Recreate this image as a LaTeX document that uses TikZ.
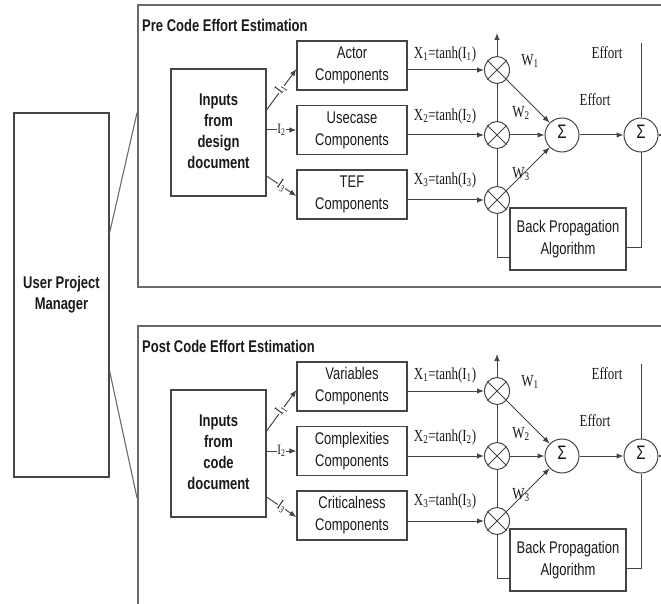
\documentclass[tikz,border=0pt]{standalone}
\usepackage{graphicx}
\usepackage{fontspec}
\setmainfont{Liberation Serif}
\setsansfont{Liberation Sans}
\usetikzlibrary{arrows.meta,shapes.geometric}

\definecolor{linegray}{HTML}{454545}
\definecolor{framegray}{HTML}{6A6A6A}
\definecolor{inkdark}{HTML}{1A1A1A}

% lettering is set a little taller than wide
\newcommand{\tall}[1]{\scalebox{1}[1.3]{\begin{tabular}{@{}c@{}}#1\end{tabular}}}

\tikzset{
  wire/.style={draw=linegray, line width=1pt},
  arr/.style={wire, -{Latex[length=7pt,width=5.5pt]}},
  panel/.style={draw=framegray, line width=1.6pt},
  joinline/.style={draw=framegray, line width=1.1pt},
  boxtext/.style={font=\sffamily\fontsize{13}{17}\selectfont, text=inkdark, align=center},
  boldtext/.style={font=\sffamily\bfseries\fontsize{13}{16.2}\selectfont, text=inkdark, align=center},
  block/.style={draw=linegray, line width=1.2pt, boxtext, inner sep=0pt},
  boldblock/.style={block, boldtext},
  title/.style={font=\sffamily\bfseries\fontsize{13}{16}\selectfont, text=inkdark, inner sep=0pt},
  serif/.style={font=\rmfamily\fontsize{13}{16}\selectfont, text=inkdark, inner sep=0pt},
  ilabel/.style={font=\rmfamily\fontsize{11}{12}\selectfont, text=inkdark, fill=white, inner sep=0.4pt, sloped},
  mult/.style={ellipse, draw=linegray, line width=1pt, minimum width=25pt, minimum height=27pt, inner sep=0pt},
  sumnode/.style={circle, draw=linegray, line width=1pt, minimum size=34pt, inner sep=0pt,
    font=\sffamily\fontsize{15}{15}\selectfont, text=inkdark},
}

% One estimation panel: #1 name prefix, #2 vertical offset, #3 title,
% #4 source box text, #5-#7 component boxes, #8 panel height
\newcommand{\estpanel}[8]{%
\begin{scope}[shift={(0,#2)}]
  \node[panel, anchor=north west, minimum width=563pt, minimum height=#8pt] (#1box) at (137,4) {};
  \node[title, anchor=west] (#1title) at (142,27) {\tall{#3}};
  \node[boldblock, minimum width=95pt, minimum height=127pt] (#1in) at (218.5,132.5) {\tall{#4}};
  \node[block, minimum width=110pt, minimum height=49pt] (#1c1) at (352,65.5) {\tall{#5}};
  \node[block, minimum width=110pt, minimum height=49pt] (#1c2) at (352,130) {\tall{#6}};
  \node[block, minimum width=110pt, minimum height=49pt] (#1c3) at (352,194.5) {\tall{#7}};
  \node[mult] (#1m1) at (497,70) {};
  \node[mult] (#1m2) at (497,135) {};
  \node[mult] (#1m3) at (497,200) {};
  \node[sumnode] (#1s1) at (562,135) {\tall{Σ}};
  \node[sumnode] (#1s2) at (641,135) {\tall{Σ}};
  \node[block, minimum width=116pt, minimum height=62pt] (#1bp) at (568,239) {\tall{Back Propagation\\Algorithm}};
  \coordinate (#1up) at (497,33);
  \coordinate (#1top) at (641,43);
  \coordinate (#1out) at (672,135);
  % multiplier crosses
  \foreach \k in {1,2,3} {
    \draw[wire] (#1m\k.45) -- (#1m\k.225) (#1m\k.135) -- (#1m\k.315);
  }
  % inputs to components
  \draw[arr] ([yshift=22.5pt]#1in.east) -- node[ilabel]{\tall{I\textsubscript{1}}} ([yshift=-3.5pt]#1c1.west);
  \draw[arr] (#1in.east |- #1c2.west) -- node[ilabel]{\tall{I\textsubscript{2}}} (#1c2.west);
  \draw[arr] ([yshift=-43.5pt]#1in.east) -- node[ilabel]{\tall{I\textsubscript{3}}} ([yshift=-1.5pt]#1c3.west);
  % components to multipliers
  \draw[arr] ([yshift=-4.5pt]#1c1.east) -- (#1m1);
  \draw[arr] ([yshift=-5pt]#1c2.east) -- (#1m2);
  \draw[arr] ([yshift=-5.5pt]#1c3.east) -- (#1m3);
  \node[serif] (#1x1) at (445,54) {\tall{X\textsubscript{1}=tanh(I\textsubscript{1})}};
  \node[serif] (#1x2) at (445,116) {\tall{X\textsubscript{2}=tanh(I\textsubscript{2})}};
  \node[serif] (#1x3) at (445,180) {\tall{X\textsubscript{3}=tanh(I\textsubscript{3})}};
  % weighted products into the first sum
  \draw[arr] (#1m1) -- (#1s1.135);
  \draw[arr] (#1m2) -- (#1s1);
  \draw[arr] (#1m3) -- (#1s1.-135);
  \node[serif] (#1w1) at (530,61) {\tall{W\textsubscript{1}}};
  \node[serif] (#1w2) at (521,113) {\tall{W\textsubscript{2}}};
  \node[serif] (#1w3) at (521,174) {\tall{W\textsubscript{3}}};
  % multiplier column and feedback loop
  \draw[arr] (#1m1) -- (#1up);
  \draw[wire] (#1m1) -- (#1m2);
  \draw[wire] (#1m2) -- (#1m3);
  \draw[wire] (#1m3.south) |- ([yshift=-18pt]#1bp.west);
  % sums and effort output
  \draw[arr] (#1s1) -- (#1s2);
  \draw[wire] (#1top) -- (#1s2);
  \draw[wire] (#1s2.south) |- ([yshift=-8.5pt]#1bp.east);
  \draw[wire, line width=1.4pt] (#1s2.east) -- (#1out);
  \node[serif] (#1e1) at (607,54) {\tall{Effort}};
  \node[serif] (#1e2) at (595,101) {\tall{Effort}};
\end{scope}}

\begin{document}
\begin{tikzpicture}[x=1pt,y=-1pt]
  \useasboundingbox (0,0) rectangle (661,604);
  \clip (0,0) rectangle (661,604);

  \node[boldblock, minimum width=95pt, minimum height=364pt] (upm) at (61.5,295) {\tall{User Project\\Manager}};

  \estpanel{p}{0}{Pre Code Effort Estimation}{Inputs\\from\\design\\document}%
    {Actor\\Components}{Usecase\\Components}{TEF\\Components}{282}
  \estpanel{q}{321}{Post Code Effort Estimation}{Inputs\\from\\code\\document}%
    {Variables\\Components}{Complexities\\Components}{Criticalness\\Components}{340}

  \draw[joinline] ([yshift=62pt]upm.east) -- ([yshift=33pt]pbox.west);
  \draw[joinline] ([yshift=-76pt]upm.east) -- ([yshift=-2pt]qbox.west);
\end{tikzpicture}
\end{document}
